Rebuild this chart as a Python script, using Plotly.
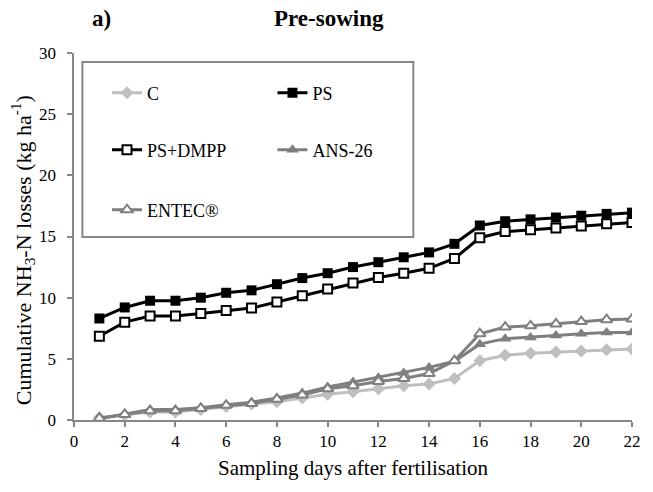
import plotly.graph_objects as go

days = list(range(1, 23))
C = [0.2, 0.4, 0.65, 0.65, 0.85, 1.1, 1.3, 1.5, 1.8, 2.1, 2.3, 2.55, 2.8, 2.95, 3.4, 4.85, 5.3, 5.45, 5.55, 5.65, 5.75, 5.8]
PS = [8.3, 9.2, 9.75, 9.75, 10.0, 10.4, 10.6, 11.1, 11.6, 12.0, 12.5, 12.9, 13.3, 13.7, 14.4, 15.9, 16.25, 16.4, 16.55, 16.7, 16.85, 16.95]
PS_DMPP = [6.85, 8.0, 8.5, 8.5, 8.7, 8.95, 9.15, 9.65, 10.15, 10.7, 11.2, 11.65, 12.0, 12.4, 13.2, 14.9, 15.4, 15.55, 15.7, 15.85, 16.05, 16.15]
ANS26 = [0.1, 0.5, 0.85, 0.85, 1.0, 1.25, 1.45, 1.8, 2.2, 2.7, 3.1, 3.45, 3.85, 4.3, 4.8, 6.2, 6.65, 6.75, 6.9, 7.05, 7.15, 7.15]
ENTEC = [0.15, 0.45, 0.75, 0.75, 0.95, 1.2, 1.35, 1.7, 2.05, 2.55, 2.8, 3.15, 3.4, 3.8, 4.85, 7.05, 7.6, 7.7, 7.85, 8.05, 8.2, 8.25]

FONT = "Liberation Serif, Times New Roman, serif"
GRAY = "#7f7f7f"
LIGHT = "#bfbfbf"
AXIS = "#878787"

series = [
    ("C", C, LIGHT, dict(symbol="diamond", size=10, color=LIGHT), "legend"),
    ("PS", PS, "black", dict(symbol="square", size=10, color="black"), "legend2"),
    ("PS+DMPP", PS_DMPP, "black", dict(symbol="square", size=9, color="white", line=dict(color="black", width=2)), "legend3"),
    ("ANS-26", ANS26, GRAY, dict(symbol="triangle-up", size=11, color=GRAY), "legend4"),
    ("ENTEC®", ENTEC, GRAY, dict(symbol="triangle-up", size=10, color="white", line=dict(color=GRAY, width=2)), "legend5"),
]

fig = go.Figure()
for name, vals, col, mk, lg in series:
    fig.add_trace(go.Scatter(x=days, y=vals, name=name, mode="lines+markers",
                             line=dict(color=col, width=3), marker=mk, legend=lg))

W, H = 653, 492
L, R, T, B = 73.5, 13, 53, 72
pw, ph = W - L - R, H - T - B

def px(x):
    return (x - L) / pw

def py(y):
    return (H - B - y) / ph

leg_common = dict(bgcolor="rgba(0,0,0,0)", borderwidth=0, font=dict(family=FONT, size=18, color="black"),
                  xanchor="left", yanchor="middle", itemwidth=30)
col1, col2 = px(107), px(275)
r1, r2, r3 = py(93), py(150), py(210)

fig.update_layout(
    width=W, height=H,
    margin=dict(l=L, r=R, t=T, b=B),
    paper_bgcolor="white", plot_bgcolor="white",
    font=dict(family=FONT, size=16, color="black"),
    showlegend=True,
    legend=dict(x=col1, y=r1, **leg_common),
    legend2=dict(x=col2, y=r1, **leg_common),
    legend3=dict(x=col1, y=r2, **leg_common),
    legend4=dict(x=col2, y=r2, **leg_common),
    legend5=dict(x=col1, y=r3, **leg_common),
    xaxis=dict(range=[0, 22], dtick=2, tick0=0, showgrid=False, zeroline=False,
               showline=True, linecolor=AXIS, linewidth=2, ticks="outside", ticklen=5,
               tickcolor=AXIS, tickwidth=2, tickfont=dict(family=FONT, size=17),
               title=dict(text="Sampling days after fertilisation", font=dict(family=FONT, size=21), standoff=10)),
    yaxis=dict(range=[0, 30], dtick=5, tick0=0, showgrid=False, zeroline=False,
               showline=True, linecolor=AXIS, linewidth=2, ticks="outside", ticklen=5,
               tickcolor=AXIS, tickwidth=2, tickfont=dict(family=FONT, size=17),
               ticksuffix="\u00a0\u2009"),
    shapes=[dict(type="rect", xref="paper", yref="paper", x0=px(82), x1=px(418), y0=py(237), y1=py(62),
                 line=dict(color=AXIS, width=2), fillcolor="rgba(0,0,0,0)", layer="below")],
    annotations=[
        dict(text="<b>a)</b>", xref="paper", yref="paper", x=px(101), y=py(18), xanchor="center", yanchor="middle",
             showarrow=False, font=dict(family=FONT, size=23)),
        dict(text="<b>Pre-sowing</b>", xref="paper", yref="paper", x=px(332), y=py(18), xanchor="center", yanchor="middle",
             showarrow=False, font=dict(family=FONT, size=23)),
        dict(text="Cumulative NH<sub>3</sub>-N losses (kg ha<sup>-1</sup>)", xref="paper", yref="paper",
             x=px(21), y=py(250), xanchor="center", yanchor="middle", textangle=-90,
             showarrow=False, font=dict(family=FONT, size=22)),
    ],
)

fig.write_html("out.html")
